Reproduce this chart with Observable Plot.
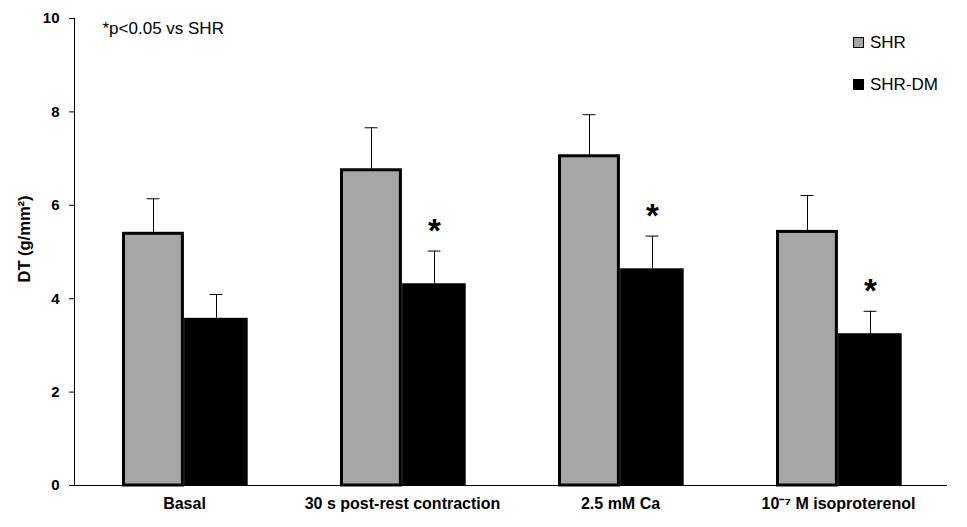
<!DOCTYPE html>
<html><head><meta charset="utf-8">
<script src="https://cdn.jsdelivr.net/npm/d3@7"></script>
<script src="https://cdn.jsdelivr.net/npm/@observablehq/plot@0.6"></script>
<style>
body{margin:0;background:#fff;}
#wrap{position:relative;width:967px;height:527px;font-family:"Liberation Sans",Arial,sans-serif;color:#000;}
.lg{position:absolute;left:853px;display:flex;align-items:center;font-size:17px;line-height:1;}
.sw{width:9px;height:9px;margin-right:6px;border:1px solid #000;}
</style></head><body><div id="wrap"></div>
<script>
const categories = ["Basal", "30 s post-rest contraction", "2.5 mM Ca", "10⁻⁷ M isoproterenol"];
const seriesNames = ["SHR", "SHR-DM"];
const seriesColors = ["#a6a6a6", "#000000"];
const shrMean = [5.39, 6.75, 7.05, 5.43];
const shrErr = [0.75, 0.91, 0.89, 0.78];
const dmMean = [3.58, 4.32, 4.64, 3.25];
const dmErr = [0.51, 0.70, 0.70, 0.48];
const dmSignificant = [false, true, true, true];
const yTicks = [0, 2, 4, 6, 8, 10];
const yLabel = "DT (g/mm²)";
const note = "*p<0.05 vs SHR";

const shr = categories.map((c, i) => ({category: c, mean: shrMean[i], top: shrMean[i] + shrErr[i]}));
const dm = categories.map((c, i) => ({category: c, mean: dmMean[i], top: dmMean[i] + dmErr[i], sig: dmSignificant[i]}));

const font = "'Liberation Sans', Arial, sans-serif";

const chart = Plot.plot({
  width: 967, height: 527,
  marginLeft: 74, marginRight: 20, marginTop: 18, marginBottom: 42,
  style: {fontFamily: font, background: "#fff", color: "#000"},
  x: {domain: categories, padding: 0, label: null},
  y: {domain: [0, 10], label: null},
  marks: [
    // error bars
    Plot.ruleX(shr, {x: "category", y1: "mean", y2: "top", dx: -31, stroke: "#000", strokeWidth: 1}),
    Plot.tickY(shr, {x: "category", y: "top", dx: -31, insetLeft: 102.6, insetRight: 102.6, stroke: "#000", strokeWidth: 1}),
    Plot.ruleX(dm, {x: "category", y1: "mean", y2: "top", dx: 32, stroke: "#000", strokeWidth: 1}),
    Plot.tickY(dm, {x: "category", y: "top", dx: 32, insetLeft: 102.6, insetRight: 102.6, stroke: "#000", strokeWidth: 1}),
    // bars
    Plot.barY(dm, {x: "category", y: "mean", fill: seriesColors[1], insetLeft: 109.1, insetRight: 45.3}),
    Plot.barY(shr, {x: "category", y: "mean", fill: seriesColors[0], stroke: "#000", strokeWidth: 3, insetLeft: 48.5, insetRight: 110.6}),
    // significance stars
    Plot.text(dm.filter(d => d.sig), {x: "category", y: "top", text: () => "*", dx: 32, dy: -20, fontSize: 33, fontWeight: "bold", fill: "#000"}),
    // axes
    Plot.ruleY([0], {stroke: "#000", strokeWidth: 1}),
    Plot.frame({anchor: "left", stroke: "#000", strokeWidth: 1}),
    Plot.axisY({ticks: yTicks, tickSize: 5, tickPadding: 10, fontSize: 15, fontWeight: "bold", label: null}),
    Plot.axisX({tickSize: 0, tickPadding: 12, fontSize: 16, fontWeight: "bold", label: null}),
    Plot.text([yLabel], {frameAnchor: "left", rotate: -90, textAnchor: "middle", dx: -50, dy: -13, fontSize: 16.5, fontWeight: "bold", fill: "#000"}),
    Plot.text([note], {frameAnchor: "top-left", dx: 28, dy: 3, fontSize: 17, textAnchor: "start", fill: "#000"})
  ]
});

const wrap = document.getElementById("wrap");
wrap.appendChild(chart);
const legendTops = [34, 76];
seriesNames.forEach((name, i) => {
  const row = document.createElement("div");
  row.className = "lg";
  row.style.top = legendTops[i] + "px";
  const sw = document.createElement("span");
  sw.className = "sw";
  sw.style.background = seriesColors[i];
  row.appendChild(sw);
  row.appendChild(document.createTextNode(name));
  wrap.appendChild(row);
});
</script></body></html>
